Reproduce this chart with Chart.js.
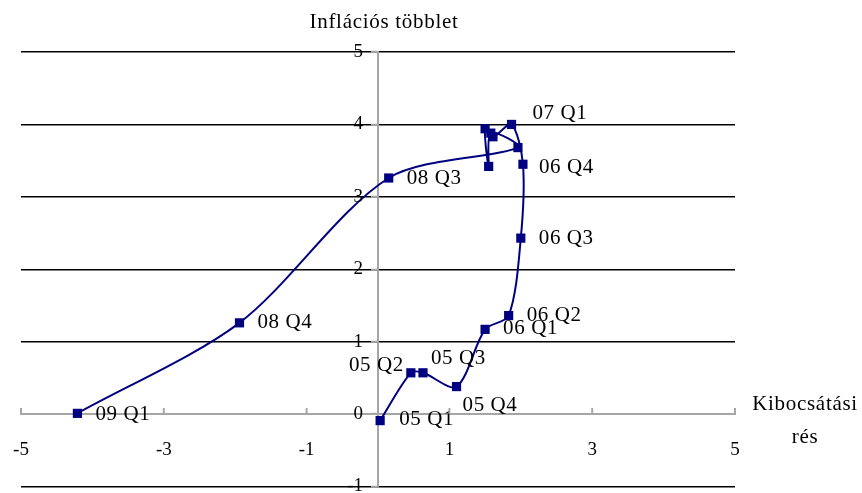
<!DOCTYPE html>
<html>
<head>
<meta charset="utf-8">
<script src="https://cdn.jsdelivr.net/npm/chart.js@4/dist/chart.umd.min.js"></script>
<style>
  html, body { margin: 0; padding: 0; background: #fff; }
</style>
</head>
<body>
<canvas id="grafico_res" width="862" height="493"></canvas>
<script>
// negyedévek, időrendben
const negyedevek = ['05 Q1', '05 Q2', '05 Q3', '05 Q4', '06 Q1', '06 Q2', '06 Q3', '06 Q4',
  '07 Q1', '07 Q2', '07 Q3', '07 Q4', '08 Q1', '08 Q2', '08 Q3', '08 Q4', '09 Q1'];
// kibocsátási rés (x)
const kibocsatasiRes = [0.03, 0.46, 0.63, 1.10, 1.50, 1.83, 2.00, 2.03,
  1.87, 1.61, 1.50, 1.55, 1.58, 1.96, 0.15, -1.94, -4.21];
// inflációs többlet (y)
const inflaciosTobblet = [-0.09, 0.57, 0.57, 0.38, 1.17, 1.36, 2.43, 3.45,
  4.00, 3.83, 3.94, 3.42, 3.88, 3.68, 3.26, 1.26, 0.01];
// csak ezek a pontok kapnak feliratot
const feliratok = ['05 Q1', '05 Q2', '05 Q3', '05 Q4', '06 Q1', '06 Q2', '06 Q3', '06 Q4',
  '07 Q1', '08 Q3', '08 Q4', '09 Q1'];
const xTicks = [-5, -3, -1, 1, 3, 5];
const yTicks = [-1, 0, 1, 2, 3, 4, 5];

const csalad = '"Liberation Serif", "Times New Roman", serif';
const betu = '21px ' + csalad;     // feliratok, címek
const tickBetu = '19px ' + csalad; // tengely számok
const tengelySzin = '#a6a6a6';

// felirat eltolások (px) a ponttól
const eltolas = {
  '05 Q1': [19, -1, 'left'],
  '05 Q2': [-7, -7, 'right'],
  '05 Q3': [8, -14, 'left'],
  '05 Q4': [6, 19, 'left'],
  '06 Q1': [18, -1, 'left'],
  '06 Q2': [18, 0, 'left'],
  '06 Q3': [18, 0, 'left'],
  '06 Q4': [16, 3, 'left'],
  '07 Q1': [21, -11, 'left'],
  '08 Q3': [18, 0, 'left'],
  '08 Q4': [18, 0, 'left'],
  '09 Q1': [18, 1, 'left']
};

const pontok = kibocsatasiRes.map((x, i) => ({ x: x, y: inflaciosTobblet[i] }));

const feliratPlugin = {
  id: 'feliratok',
  afterDatasetsDraw(chart) {
    const ctx = chart.ctx;
    const meta = chart.getDatasetMeta(0);
    ctx.save();
    ctx.font = betu;
    ctx.fillStyle = '#000';
    ctx.textBaseline = 'middle';
    ctx.letterSpacing = '0.6px';
    negyedevek.forEach((nev, i) => {
      if (!feliratok.includes(nev)) return;
      const p = meta.data[i];
      const o = eltolas[nev] || [18, 0, 'left'];
      ctx.textAlign = o[2];
      ctx.fillText(nev, p.x + o[0], p.y + o[1]);
    });
    ctx.restore();
  },
  afterDraw(chart) {
    const ctx = chart.ctx;
    const xs = chart.scales.x, ys = chart.scales.y;
    const x0 = xs.getPixelForValue(0), y0 = ys.getPixelForValue(0);
    ctx.save();
    // x tengely osztásjelei felfelé
    ctx.strokeStyle = tengelySzin;
    ctx.lineWidth = 2;
    xTicks.forEach(v => {
      const px = xs.getPixelForValue(v);
      ctx.beginPath();
      ctx.moveTo(px, y0);
      ctx.lineTo(px, y0 - 6);
      ctx.stroke();
    });
    // y tengely számai a tengelytől balra
    ctx.font = tickBetu;
    ctx.fillStyle = '#000';
    ctx.textAlign = 'right';
    ctx.textBaseline = 'middle';
    yTicks.forEach(v => {
      ctx.fillText(String(v), x0 - 15, ys.getPixelForValue(v));
    });
    // tengelycímek
    ctx.font = betu;
    ctx.textAlign = 'center';
    ctx.textBaseline = 'alphabetic';
    ctx.letterSpacing = '0.7px';
    ctx.fillText('Inflációs többlet', x0 + 6, chart.chartArea.top - 24);
    ctx.fillText('Kibocsátási', chart.chartArea.right + 70, y0 - 4);
    ctx.fillText('rés', chart.chartArea.right + 70, y0 + 29);
    ctx.restore();
  }
};

const nullazo = function (scale) {
  if (scale.isHorizontal()) scale.height = 0; else scale.width = 0;
  scale.paddingTop = 0; scale.paddingBottom = 0;
  scale.paddingLeft = 0; scale.paddingRight = 0;
};

new Chart(document.getElementById('grafico_res'), {
  type: 'scatter',
  data: {
    datasets: [{
      label: 'Inflációs többlet',
      data: pontok,
      showLine: true,
      tension: 0.3,
      borderColor: '#000080',
      borderWidth: 2,
      pointStyle: 'rect',
      pointRadius: 6.5,
      pointBackgroundColor: '#000080',
      pointBorderColor: '#000080',
      pointBorderWidth: 0,
      clip: false
    }]
  },
  options: {
    responsive: false,
    animation: false,
    devicePixelRatio: 1,
    layout: { padding: { left: 21, right: 127, top: 52, bottom: 4 } },
    plugins: {
      legend: { display: false },
      tooltip: { enabled: false }
    },
    scales: {
      x: {
        type: 'linear',
        min: -5,
        max: 5,
        position: { y: 0 },
        afterBuildTicks: s => { s.ticks = xTicks.map(v => ({ value: v })); },
        afterFit: nullazo,
        ticks: { color: '#000', font: { family: csalad, size: 19 }, padding: 25, maxRotation: 0 },
        grid: { drawOnChartArea: false, drawTicks: false },
        border: { color: tengelySzin, width: 2 }
      },
      y: {
        type: 'linear',
        min: -1,
        max: 5,
        position: { x: 0 },
        afterBuildTicks: s => { s.ticks = yTicks.map(v => ({ value: v })); },
        afterFit: nullazo,
        ticks: { display: false },
        grid: {
          color: c => (c.tick && c.tick.value === 0 ? 'rgba(0,0,0,0)' : '#000'),
          lineWidth: 1.5,
          tickColor: tengelySzin,
          tickLength: 6,
          tickWidth: 2
        },
        border: { color: tengelySzin, width: 2 }
      }
    }
  },
  plugins: [feliratPlugin]
});
</script>
</body>
</html>
